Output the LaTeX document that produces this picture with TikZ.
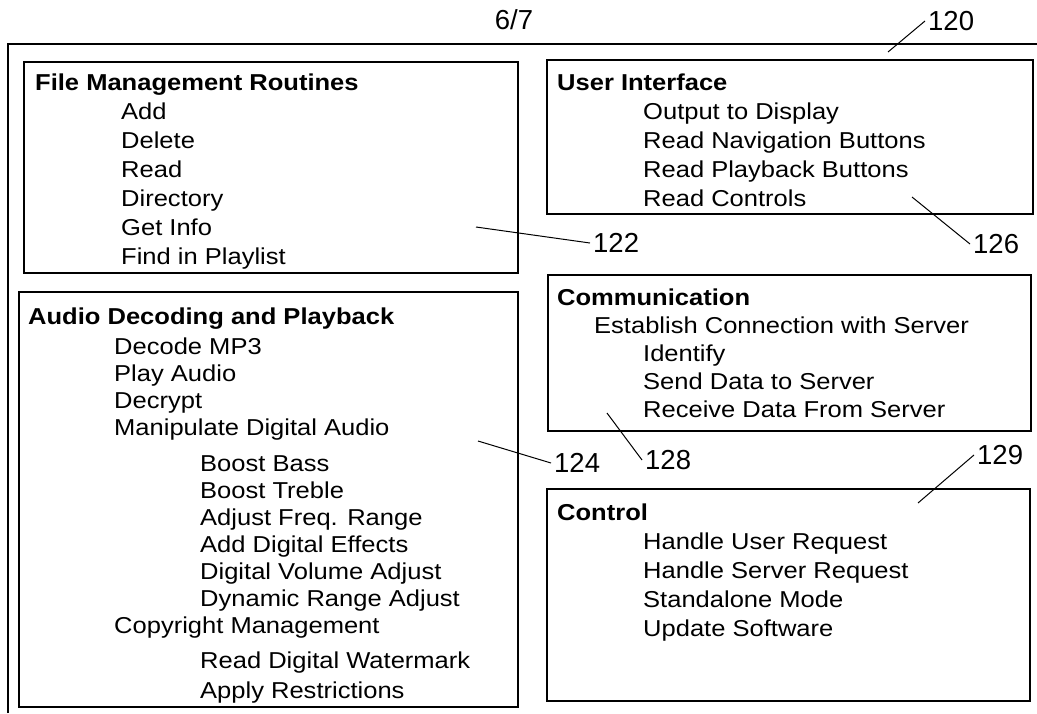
\documentclass[tikz,border=0pt]{standalone}
\usepackage{fontspec}
\setmainfont{Liberation Sans}[FakeStretch=1.11]
\newfontfamily\numfont{Liberation Sans}
\usetikzlibrary{positioning}

\newcommand{\lvlone}{\hspace*{86pt}}
\newcommand{\lvltwo}{\hspace*{172pt}}
\newcommand{\lvlhalf}{\hspace*{37pt}}

\begin{document}
\begin{tikzpicture}[x=1pt,y=-1pt,
  box/.style={draw, line width=1.8pt, anchor=north west, inner sep=0},
  list/.style={align=left, inner sep=0, font=\fontsize{23}{29}\selectfont},
  refnum/.style={inner sep=3pt, font=\numfont\fontsize{27.5}{30}\selectfont},
  leader/.style={line width=1pt}]
\useasboundingbox (0,0) rectangle (1037,713);
% outer frame
\draw[line width=1.8pt] (8,713) -- (8,44) -- (1037,44);
\node[refnum] (sheet) at (514,20) {6/7};

% left column
\node[box, minimum width=494, minimum height=211] (files) at (23,61) {};
\node[list, below right=13pt and 12pt of files.north west] (filestext) {\textbf{File Management Routines}\\
  \lvlone Add\\ \lvlone Delete\\ \lvlone Read\\ \lvlone Directory\\
  \lvlone Get Info\\ \lvlone Find in Playlist};

\node[box, minimum width=499, minimum height=415] (audio) at (18,291) {};
\node[list, below right=17pt and 10pt of audio.north west, font=\fontsize{23}{27}\selectfont] (audiotext) {\textbf{Audio Decoding and Playback}\\[3pt]
  \lvlone Decode MP3\\ \lvlone Play Audio\\ \lvlone Decrypt\\
  \lvlone Manipulate Digital Audio\\[9pt]
  \lvltwo Boost Bass\\ \lvltwo Boost Treble\\ \lvltwo Adjust Freq. Range\\
  \lvltwo Add Digital Effects\\ \lvltwo Digital Volume Adjust\\
  \lvltwo Dynamic Range Adjust\\
  \lvlone Copyright Management\\[8pt]
  \lvltwo Read Digital Watermark\\[3pt] \lvltwo Apply Restrictions};

% right column
\node[box, minimum width=486, minimum height=154] (ui) at (546,59) {};
\node[list, below right=15pt and 11pt of ui.north west] (uitext) {\textbf{User Interface}\\
  \lvlone Output to Display\\ \lvlone Read Navigation Buttons\\
  \lvlone Read Playback Buttons\\ \lvlone Read Controls};

\node[box, minimum width=483, minimum height=156] (comm) at (547,274) {};
\node[list, below right=15pt and 10pt of comm.north west, font=\fontsize{23}{28}\selectfont] (commtext) {\textbf{Communication}\\
  \lvlhalf Establish Connection with Server\\
  \lvlone Identify\\ \lvlone Send Data to Server\\ \lvlone Receive Data From Server};

\node[box, minimum width=483, minimum height=212] (ctrl) at (546,488) {};
\node[list, below right=16pt and 11pt of ctrl.north west] (ctrltext) {\textbf{Control}\\
  \lvlone Handle User Request\\ \lvlone Handle Server Request\\
  \lvlone Standalone Mode\\ \lvlone Update Software};

% reference numerals
\node[refnum, anchor=west] (n120) at (925,21) {120};
\node[refnum, anchor=west] (n122) at (590,243) {122};
\node[refnum, anchor=west] (n124) at (551,463) {124};
\node[refnum, anchor=west] (n126) at (970,244) {126};
\node[refnum, anchor=west] (n128) at (642,460) {128};
\node[refnum, anchor=west] (n129) at (974,455) {129};
\coordinate (p120) at (888,52);
\coordinate (p122) at (476,227);
\coordinate (p124) at (478,441);
\coordinate (p126) at (912,197);
\coordinate (p128) at (607,413);
\coordinate (p129) at (918,503);
\foreach \n in {120,122,124,126,128,129}
  \draw[leader] (p\n) -- (n\n.west);
\end{tikzpicture}
\end{document}
